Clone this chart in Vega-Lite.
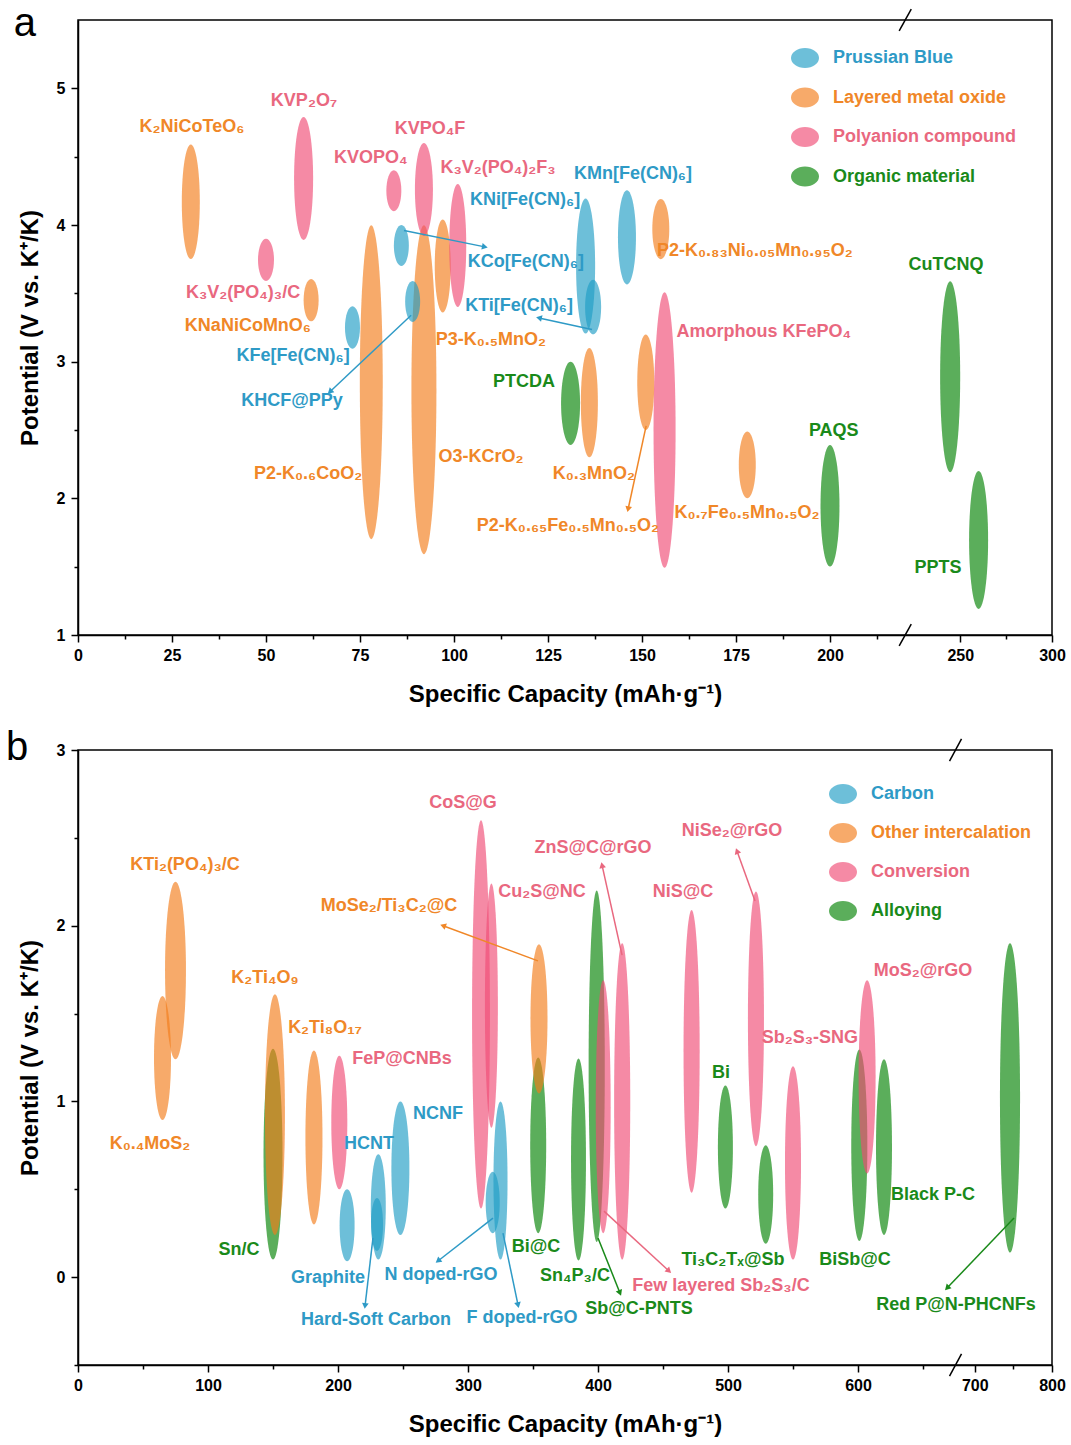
{
  "$schema": "https://vega.github.io/schema/vega-lite/v6.json",
  "padding": {"left": 5, "top": 3, "right": 5, "bottom": 5},
  "spacing": 20,
  "config": {
    "view": {"stroke": "#000", "strokeWidth": 1.5},
    "axis": {"domainColor": "#000", "domainWidth": 1.5, "tickColor": "#000", "tickWidth": 1.5, "labelColor": "#000", "labelFont": "Liberation Sans", "labelFontSize": 16, "labelFontWeight": "bold", "titleFont": "Liberation Sans", "titleFontSize": 24, "titleFontWeight": "bold", "titleColor": "#000", "grid": false, "labelFlush": false, "labelOverlap": false},
    "text": {"font": "Liberation Sans"}
  },
  "resolve": {"scale": {"fill": "independent", "color": "independent", "shape": "independent", "size": "independent"}},
  "datasets": {
    "ell_a": [
      {"name": "K2NiCoTeO6", "cat": "Layered metal oxide", "cap": 30, "v": 4.17, "dv": 0.84},
      {"name": "KVP2O7", "cat": "Polyanion compound", "cap": 60, "v": 4.34, "dv": 0.90},
      {"name": "K3V2PO43C", "cat": "Polyanion compound", "cap": 50, "v": 3.745, "dv": 0.31},
      {"name": "KNaNiCoMnO6", "cat": "Layered metal oxide", "cap": 62, "v": 3.45, "dv": 0.31},
      {"name": "KFeFeCN6", "cat": "Prussian Blue", "cap": 73, "v": 3.25, "dv": 0.31},
      {"name": "P2K06CoO2", "cat": "Layered metal oxide", "cap": 78, "v": 2.85, "dv": 2.30},
      {"name": "O3KCrO2", "cat": "Layered metal oxide", "cap": 92, "v": 2.795, "dv": 2.41},
      {"name": "KHCFPPy", "cat": "Prussian Blue", "cap": 89, "v": 3.44, "dv": 0.30},
      {"name": "KCoFeCN6", "cat": "Prussian Blue", "cap": 86, "v": 3.85, "dv": 0.30},
      {"name": "KVOPO4", "cat": "Polyanion compound", "cap": 84, "v": 4.25, "dv": 0.30},
      {"name": "KVPO4F", "cat": "Polyanion compound", "cap": 92, "v": 4.26, "dv": 0.68},
      {"name": "P3K05MnO2", "cat": "Layered metal oxide", "cap": 97, "v": 3.70, "dv": 0.68},
      {"name": "K3V2PO42F3", "cat": "Polyanion compound", "cap": 101, "v": 3.85, "dv": 0.90},
      {"name": "KNiFeCN6", "cat": "Prussian Blue", "cap": 135, "v": 3.70, "dv": 0.99},
      {"name": "KTiFeCN6", "cat": "Prussian Blue", "cap": 137, "v": 3.40, "dv": 0.40},
      {"name": "KMnFeCN6", "cat": "Prussian Blue", "cap": 146, "v": 3.91, "dv": 0.69},
      {"name": "P2K083", "cat": "Layered metal oxide", "cap": 155, "v": 3.97, "dv": 0.44},
      {"name": "PTCDA", "cat": "Organic material", "cap": 131, "v": 2.695, "dv": 0.61},
      {"name": "K03MnO2", "cat": "Layered metal oxide", "cap": 136, "v": 2.70, "dv": 0.80},
      {"name": "P2K065", "cat": "Layered metal oxide", "cap": 151, "v": 2.85, "dv": 0.70},
      {"name": "AmKFePO4", "cat": "Polyanion compound", "cap": 156, "v": 2.50, "dv": 2.02},
      {"name": "K07", "cat": "Layered metal oxide", "cap": 178, "v": 2.245, "dv": 0.49},
      {"name": "PAQS", "cat": "Organic material", "cap": 200, "v": 1.945, "dv": 0.89},
      {"name": "CuTCNQ", "cat": "Organic material", "cap": 244.5, "v": 2.89, "dv": 1.40},
      {"name": "PPTS", "cat": "Organic material", "cap": 260, "v": 1.695, "dv": 1.01}
    ],
    "lab_a": [
      {"t": "K₂NiCoTeO₆", "cat": "Layered metal oxide", "cap": 30.3, "v": 4.72},
      {"t": "KVP₂O₇", "cat": "Polyanion compound", "cap": 60.1, "v": 4.91},
      {"t": "KVOPO₄", "cat": "Polyanion compound", "cap": 77.9, "v": 4.49},
      {"t": "KVPO₄F", "cat": "Polyanion compound", "cap": 93.6, "v": 4.70},
      {"t": "K₃V₂(PO₄)₂F₃", "cat": "Polyanion compound", "cap": 111.7, "v": 4.42},
      {"t": "KNi[Fe(CN)₆]", "cat": "Prussian Blue", "cap": 118.9, "v": 4.18},
      {"t": "KMn[Fe(CN)₆]", "cat": "Prussian Blue", "cap": 147.6, "v": 4.37},
      {"t": "KCo[Fe(CN)₆]", "cat": "Prussian Blue", "cap": 119.1, "v": 3.73},
      {"t": "P2-K₀.₈₃Ni₀.₀₅Mn₀.₉₅O₂", "cat": "Layered metal oxide", "cap": 180, "v": 3.81},
      {"t": "CuTCNQ", "cat": "Organic material", "cap": 242.3, "v": 3.71},
      {"t": "K₃V₂(PO₄)₃/C", "cat": "Polyanion compound", "cap": 43.9, "v": 3.50},
      {"t": "KNaNiCoMnO₆", "cat": "Layered metal oxide", "cap": 45.2, "v": 3.26},
      {"t": "KTi[Fe(CN)₆]", "cat": "Prussian Blue", "cap": 117.3, "v": 3.41},
      {"t": "P3-K₀.₅MnO₂", "cat": "Layered metal oxide", "cap": 109.8, "v": 3.16},
      {"t": "KFe[Fe(CN)₆]", "cat": "Prussian Blue", "cap": 57.2, "v": 3.04},
      {"t": "Amorphous KFePO₄", "cat": "Polyanion compound", "cap": 182.4, "v": 3.22},
      {"t": "KHCF@PPy", "cat": "Prussian Blue", "cap": 56.9, "v": 2.71},
      {"t": "PTCDA", "cat": "Organic material", "cap": 118.6, "v": 2.85},
      {"t": "PAQS", "cat": "Organic material", "cap": 201, "v": 2.49},
      {"t": "O3-KCrO₂", "cat": "Layered metal oxide", "cap": 107.2, "v": 2.30},
      {"t": "P2-K₀.₆CoO₂", "cat": "Layered metal oxide", "cap": 61.2, "v": 2.18},
      {"t": "K₀.₃MnO₂", "cat": "Layered metal oxide", "cap": 137.2, "v": 2.18},
      {"t": "K₀.₇Fe₀.₅Mn₀.₅O₂", "cat": "Layered metal oxide", "cap": 177.9, "v": 1.89},
      {"t": "P2-K₀.₆₅Fe₀.₅Mn₀.₅O₂", "cat": "Layered metal oxide", "cap": 130.3, "v": 1.80},
      {"t": "PPTS", "cat": "Organic material", "cap": 237.9, "v": 1.49}
    ],
    "arr_a": [
      {"cat": "Prussian Blue", "cap": 108.2, "v": 3.84, "cap2": 86.7, "v2": 3.96, "ang": 101},
      {"cat": "Prussian Blue", "cap": 122.6, "v": 3.32, "cap2": 136.7, "v2": 3.235, "ang": 283},
      {"cat": "Prussian Blue", "cap": 67.0, "v": 2.78, "cap2": 88.6, "v2": 3.34, "ang": 227},
      {"cat": "Layered metal oxide", "cap": 146.3, "v": 1.92, "cap2": 151.1, "v2": 2.53, "ang": 192}
    ],
    "brk_a": [
      {"cap": 218.4, "v": 0.92, "cap2": 223.3, "v2": 1.08},
      {"cap": 218.4, "v": 5.42, "cap2": 223.3, "v2": 5.58}
    ],
    "let_a": [{"t": "a", "cap": -14.1, "v": 5.38}],
    "ell_b": [
      {"name": "K04MoS2", "cat": "Other intercalation", "cap": 65, "v": 1.247, "dv": 0.706},
      {"name": "KTi2PO43C", "cat": "Other intercalation", "cap": 75, "v": 1.745, "dv": 1.01},
      {"name": "SnC", "cat": "Alloying", "cap": 150, "v": 0.70, "dv": 1.20},
      {"name": "K2Ti4O9", "cat": "Other intercalation", "cap": 151.5, "v": 0.925, "dv": 1.37},
      {"name": "K2Ti8O17", "cat": "Other intercalation", "cap": 181.5, "v": 0.795, "dv": 0.99},
      {"name": "FePCNBs", "cat": "Conversion", "cap": 201, "v": 0.88, "dv": 0.76},
      {"name": "Graphite", "cat": "Carbon", "cap": 207, "v": 0.295, "dv": 0.41},
      {"name": "HCNT", "cat": "Carbon", "cap": 231, "v": 0.40, "dv": 0.60},
      {"name": "HardSoft", "cat": "Carbon", "cap": 230, "v": 0.30, "dv": 0.30},
      {"name": "NCNF", "cat": "Carbon", "cap": 248, "v": 0.62, "dv": 0.76},
      {"name": "CoSG", "cat": "Conversion", "cap": 310, "v": 1.495, "dv": 2.21},
      {"name": "Cu2SNC", "cat": "Conversion", "cap": 318, "v": 1.545, "dv": 1.39},
      {"name": "FdopedrGO", "cat": "Carbon", "cap": 325, "v": 0.55, "dv": 0.90},
      {"name": "NdopedrGO", "cat": "Carbon", "cap": 319, "v": 0.425, "dv": 0.35},
      {"name": "BiC", "cat": "Alloying", "cap": 354, "v": 0.75, "dv": 1.0},
      {"name": "MoSe2", "cat": "Other intercalation", "cap": 354.6, "v": 1.47, "dv": 0.85},
      {"name": "Sn4P3C", "cat": "Alloying", "cap": 385, "v": 0.67, "dv": 1.15},
      {"name": "SbCPNTS", "cat": "Alloying", "cap": 399, "v": 1.20, "dv": 2.0},
      {"name": "FewSb2S3", "cat": "Conversion", "cap": 404, "v": 0.97, "dv": 1.44},
      {"name": "ZnS", "cat": "Conversion", "cap": 418.6, "v": 1.0, "dv": 1.8},
      {"name": "NiSC", "cat": "Conversion", "cap": 472, "v": 1.285, "dv": 1.61},
      {"name": "Bi", "cat": "Alloying", "cap": 498, "v": 0.74, "dv": 0.70},
      {"name": "NiSe2", "cat": "Conversion", "cap": 521.5, "v": 1.47, "dv": 1.45},
      {"name": "Ti3C2Tx", "cat": "Alloying", "cap": 529, "v": 0.47, "dv": 0.56},
      {"name": "Sb2S3SNG", "cat": "Conversion", "cap": 550, "v": 0.65, "dv": 1.10},
      {"name": "BiSbC", "cat": "Alloying", "cap": 601, "v": 0.75, "dv": 1.09},
      {"name": "MoS2rGO", "cat": "Conversion", "cap": 607, "v": 1.14, "dv": 1.10},
      {"name": "BlackPC", "cat": "Alloying", "cap": 620, "v": 0.74, "dv": 1.0},
      {"name": "RedP", "cat": "Alloying", "cap": 745.6, "v": 1.02, "dv": 1.76}
    ],
    "lab_b": [
      {"t": "CoS@G", "cat": "Conversion", "cap": 296.2, "v": 2.70},
      {"t": "KTi₂(PO₄)₃/C", "cat": "Other intercalation", "cap": 82.3, "v": 2.345},
      {"t": "NiSe₂@rGO", "cat": "Conversion", "cap": 503.1, "v": 2.54},
      {"t": "ZnS@C@rGO", "cat": "Conversion", "cap": 396.2, "v": 2.44},
      {"t": "Cu₂S@NC", "cat": "Conversion", "cap": 356.9, "v": 2.19},
      {"t": "NiS@C", "cat": "Conversion", "cap": 465.4, "v": 2.19},
      {"t": "MoSe₂/Ti₃C₂@C", "cat": "Other intercalation", "cap": 239.2, "v": 2.11},
      {"t": "K₂Ti₄O₉", "cat": "Other intercalation", "cap": 143.8, "v": 1.70},
      {"t": "MoS₂@rGO", "cat": "Conversion", "cap": 650, "v": 1.74},
      {"t": "K₂Ti₈O₁₇", "cat": "Other intercalation", "cap": 190, "v": 1.42},
      {"t": "Sb₂S₃-SNG", "cat": "Conversion", "cap": 563, "v": 1.36},
      {"t": "FeP@CNBs", "cat": "Conversion", "cap": 249.2, "v": 1.24},
      {"t": "Bi", "cat": "Alloying", "cap": 494.6, "v": 1.16},
      {"t": "NCNF", "cat": "Carbon", "cap": 277, "v": 0.93},
      {"t": "K₀.₄MoS₂", "cat": "Other intercalation", "cap": 55.4, "v": 0.76},
      {"t": "HCNT", "cat": "Carbon", "cap": 223.8, "v": 0.76},
      {"t": "Black P-C", "cat": "Alloying", "cap": 657.7, "v": 0.47},
      {"t": "Sn/C", "cat": "Alloying", "cap": 123.8, "v": 0.155},
      {"t": "Bi@C", "cat": "Alloying", "cap": 352.3, "v": 0.17},
      {"t": "Ti₃C₂Tₓ@Sb", "cat": "Alloying", "cap": 503.8, "v": 0.10},
      {"t": "BiSb@C", "cat": "Alloying", "cap": 597.7, "v": 0.10},
      {"t": "Graphite", "cat": "Carbon", "cap": 192.3, "v": -0.005},
      {"t": "N doped-rGO", "cat": "Carbon", "cap": 279.2, "v": 0.01},
      {"t": "Sn₄P₃/C", "cat": "Alloying", "cap": 382.3, "v": 0.006},
      {"t": "Few layered Sb₂S₃/C", "cat": "Conversion", "cap": 494.6, "v": -0.05},
      {"t": "Sb@C-PNTS", "cat": "Alloying", "cap": 431.5, "v": -0.18},
      {"t": "Red P@N-PHCNFs", "cat": "Alloying", "cap": 675.6, "v": -0.159},
      {"t": "Hard-Soft Carbon", "cat": "Carbon", "cap": 229.2, "v": -0.245},
      {"t": "F doped-rGO", "cat": "Carbon", "cap": 341.5, "v": -0.235}
    ],
    "arr_b": [
      {"cat": "Other intercalation", "cap": 280.8, "v": 2.0, "cap2": 353.8, "v2": 1.80, "ang": 290},
      {"cat": "Conversion", "cap": 403.1, "v": 2.345, "cap2": 418.5, "v2": 1.833, "ang": 347},
      {"cat": "Conversion", "cap": 506.9, "v": 2.425, "cap2": 520.8, "v2": 2.141, "ang": 340},
      {"cat": "Carbon", "cap": 220.8, "v": -0.164, "cap2": 226.9, "v2": 0.223, "ang": 187},
      {"cat": "Carbon", "cap": 276.9, "v": 0.092, "cap2": 319.2, "v2": 0.336, "ang": 232},
      {"cat": "Carbon", "cap": 338.5, "v": -0.159, "cap2": 326.9, "v2": 0.251, "ang": 168},
      {"cat": "Alloying", "cap": 416.9, "v": -0.09, "cap2": 400, "v2": 0.223, "ang": 158},
      {"cat": "Conversion", "cap": 454.6, "v": 0.035, "cap2": 404.6, "v2": 0.376, "ang": 133},
      {"cat": "Alloying", "cap": 668.5, "v": -0.062, "cap2": 750.8, "v2": 0.336, "ang": 224}
    ],
    "brk_b": [
      {"cap": 670.4, "v": -0.563, "cap2": 682.8, "v2": -0.437},
      {"cap": 670.4, "v": 2.937, "cap2": 682.8, "v2": 3.063}
    ],
    "let_b": [{"t": "b", "cap": -46.9, "v": 2.943}]
  },
  "vconcat": [
    {
      "width": 974,
      "height": 615,
      "encoding": {
        "x": {"field": "cap", "type": "quantitative",
          "scale": {"domain": [0, 220, 300], "range": [0, 827.2, 974], "nice": false, "zero": false},
          "axis": {"title": "Specific Capacity (mAh·g⁻¹)", "values": [0, 12.5, 25, 37.5, 50, 62.5, 75, 87.5, 100, 112.5, 125, 137.5, 150, 162.5, 175, 187.5, 200, 212.5, 250, 275, 300],
            "labelExpr": "(datum.value % 25 !== 0 || datum.value == 275) ? '' : '' + datum.value",
            "tickSize": {"condition": {"test": "datum.value % 25 !== 0 || datum.value == 275", "value": 4}, "value": 7},
            "labelPadding": 5, "titlePadding": 19}},
        "y": {"field": "v", "type": "quantitative",
          "scale": {"domain": [1, 5.5], "nice": false, "zero": false},
          "axis": {"title": "Potential (V vs. K⁺/K)", "values": [1, 1.5, 2, 2.5, 3, 3.5, 4, 4.5, 5],
            "labelExpr": "datum.value % 1 !== 0 ? '' : '' + datum.value",
            "tickSize": {"condition": {"test": "datum.value % 1 !== 0", "value": 4}, "value": 7},
            "labelPadding": 6, "titlePadding": 14}}
      },
      "layer": [
        {
          "data": {"name": "ell_a"},
          "mark": {"type": "point", "filled": true, "opacity": 0.65, "strokeWidth": 0},
          "encoding": {
            "fill": {"field": "cat", "type": "nominal",
              "scale": {"domain": ["Prussian Blue", "Layered metal oxide", "Polyanion compound", "Organic material"], "range": ["#1F9DC5", "#F37D1A", "#F04B75", "#038303"]},
              "legend": {"orient": "none", "legendX": 713, "legendY": 24, "title": null,
                "symbolType": "M0,-0.714C0.552,-0.714 1,-0.394 1,0C1,0.394 0.552,0.714 0,0.714C-0.552,0.714 -1,0.394 -1,0C-1,-0.394 -0.552,-0.714 0,-0.714Z",
                "symbolSize": 784, "symbolOpacity": 0.65, "symbolStrokeWidth": 0,
                "labelFont": "Liberation Sans", "labelFontSize": 18, "labelFontWeight": "bold", "labelOffset": 14, "rowPadding": 15.5, "labelLimit": 400,
                "encode": {"labels": {"update": {"fill": {"signal": "datum.label == 'Prussian Blue' ? '#2E9AC6' : datum.label == 'Layered metal oxide' ? '#F08728' : datum.label == 'Polyanion compound' ? '#E9687F' : '#1A8A1A'"}}}}}},
            "shape": {"field": "name", "type": "nominal", "legend": null,
              "scale": {"domain": ["K2NiCoTeO6", "KVP2O7", "K3V2PO43C", "KNaNiCoMnO6", "KFeFeCN6", "P2K06CoO2", "O3KCrO2", "KHCFPPy", "KCoFeCN6", "KVOPO4", "KVPO4F", "P3K05MnO2", "K3V2PO42F3", "KNiFeCN6", "KTiFeCN6", "KMnFeCN6", "P2K083", "PTCDA", "K03MnO2", "P2K065", "AmKFePO4", "K07", "PAQS", "CuTCNQ", "PPTS"],
                "range": [
                  "M0,-1C0.087,-1 0.157,-0.552 0.157,0C0.157,0.552 0.087,1 0,1C-0.087,1 -0.157,0.552 -0.157,0C-0.157,-0.552 -0.087,-1 0,-1Z",
                  "M0,-1C0.086,-1 0.155,-0.552 0.155,0C0.155,0.552 0.086,1 0,1C-0.086,1 -0.155,0.552 -0.155,0C-0.155,-0.552 -0.086,-1 0,-1Z",
                  "M0,-1C0.209,-1 0.378,-0.552 0.378,0C0.378,0.552 0.209,1 0,1C-0.209,1 -0.378,0.552 -0.378,0C-0.378,-0.552 -0.209,-1 0,-1Z",
                  "M0,-1C0.196,-1 0.355,-0.552 0.355,0C0.355,0.552 0.196,1 0,1C-0.196,1 -0.355,0.552 -0.355,0C-0.355,-0.552 -0.196,-1 0,-1Z",
                  "M0,-1C0.196,-1 0.355,-0.552 0.355,0C0.355,0.552 0.196,1 0,1C-0.196,1 -0.355,0.552 -0.355,0C-0.355,-0.552 -0.196,-1 0,-1Z",
                  "M0,-1C0.040,-1 0.073,-0.552 0.073,0C0.073,0.552 0.040,1 0,1C-0.040,1 -0.073,0.552 -0.073,0C-0.073,-0.552 -0.040,-1 0,-1Z",
                  "M0,-1C0.042,-1 0.076,-0.552 0.076,0C0.076,0.552 0.042,1 0,1C-0.042,1 -0.076,0.552 -0.076,0C-0.076,-0.552 -0.042,-1 0,-1Z",
                  "M0,-1C0.202,-1 0.366,-0.552 0.366,0C0.366,0.552 0.202,1 0,1C-0.202,1 -0.366,0.552 -0.366,0C-0.366,-0.552 -0.202,-1 0,-1Z",
                  "M0,-1C0.202,-1 0.366,-0.552 0.366,0C0.366,0.552 0.202,1 0,1C-0.202,1 -0.366,0.552 -0.366,0C-0.366,-0.552 -0.202,-1 0,-1Z",
                  "M0,-1C0.202,-1 0.366,-0.552 0.366,0C0.366,0.552 0.202,1 0,1C-0.202,1 -0.366,0.552 -0.366,0C-0.366,-0.552 -0.202,-1 0,-1Z",
                  "M0,-1C0.107,-1 0.194,-0.552 0.194,0C0.194,0.552 0.107,1 0,1C-0.107,1 -0.194,0.552 -0.194,0C-0.194,-0.552 -0.107,-1 0,-1Z",
                  "M0,-1C0.095,-1 0.172,-0.552 0.172,0C0.172,0.552 0.095,1 0,1C-0.095,1 -0.172,0.552 -0.172,0C-0.172,-0.552 -0.095,-1 0,-1Z",
                  "M0,-1C0.076,-1 0.138,-0.552 0.138,0C0.138,0.552 0.076,1 0,1C-0.076,1 -0.138,0.552 -0.138,0C-0.138,-0.552 -0.076,-1 0,-1Z",
                  "M0,-1C0.078,-1 0.141,-0.552 0.141,0C0.141,0.552 0.078,1 0,1C-0.078,1 -0.141,0.552 -0.141,0C-0.141,-0.552 -0.078,-1 0,-1Z",
                  "M0,-1C0.162,-1 0.293,-0.552 0.293,0C0.293,0.552 0.162,1 0,1C-0.162,1 -0.293,0.552 -0.293,0C-0.293,-0.552 -0.162,-1 0,-1Z",
                  "M0,-1C0.105,-1 0.191,-0.552 0.191,0C0.191,0.552 0.105,1 0,1C-0.105,1 -0.191,0.552 -0.191,0C-0.191,-0.552 -0.105,-1 0,-1Z",
                  "M0,-1C0.156,-1 0.283,-0.552 0.283,0C0.283,0.552 0.156,1 0,1C-0.156,1 -0.283,0.552 -0.283,0C-0.283,-0.552 -0.156,-1 0,-1Z",
                  "M0,-1C0.126,-1 0.228,-0.552 0.228,0C0.228,0.552 0.126,1 0,1C-0.126,1 -0.228,0.552 -0.228,0C-0.228,-0.552 -0.126,-1 0,-1Z",
                  "M0,-1C0.086,-1 0.156,-0.552 0.156,0C0.156,0.552 0.086,1 0,1C-0.086,1 -0.156,0.552 -0.156,0C-0.156,-0.552 -0.086,-1 0,-1Z",
                  "M0,-1C0.098,-1 0.178,-0.552 0.178,0C0.178,0.552 0.098,1 0,1C-0.098,1 -0.178,0.552 -0.178,0C-0.178,-0.552 -0.098,-1 0,-1Z",
                  "M0,-1C0.044,-1 0.080,-0.552 0.080,0C0.080,0.552 0.044,1 0,1C-0.044,1 -0.080,0.552 -0.080,0C-0.080,-0.552 -0.044,-1 0,-1Z",
                  "M0,-1C0.140,-1 0.254,-0.552 0.254,0C0.254,0.552 0.140,1 0,1C-0.140,1 -0.254,0.552 -0.254,0C-0.254,-0.552 -0.140,-1 0,-1Z",
                  "M0,-1C0.086,-1 0.156,-0.552 0.156,0C0.156,0.552 0.086,1 0,1C-0.086,1 -0.156,0.552 -0.156,0C-0.156,-0.552 -0.086,-1 0,-1Z",
                  "M0,-1C0.058,-1 0.105,-0.552 0.105,0C0.105,0.552 0.058,1 0,1C-0.058,1 -0.105,0.552 -0.105,0C-0.105,-0.552 -0.058,-1 0,-1Z",
                  "M0,-1C0.076,-1 0.138,-0.552 0.138,0C0.138,0.552 0.076,1 0,1C-0.076,1 -0.138,0.552 -0.138,0C-0.138,-0.552 -0.076,-1 0,-1Z"
                ]}},
            "size": {"field": "dv", "type": "quantitative", "legend": null,
              "scale": {"type": "pow", "exponent": 2, "domain": [0, 3], "range": [0, 167688], "zero": true}}
          }
        },
        {
          "data": {"name": "arr_a"},
          "mark": {"type": "rule", "strokeWidth": 1.5},
          "encoding": {
            "x2": {"field": "cap2"}, "y2": {"field": "v2"},
            "color": {"field": "cat", "type": "nominal", "legend": null,
              "scale": {"domain": ["Prussian Blue", "Layered metal oxide", "Polyanion compound", "Organic material"], "range": ["#2E9AC6", "#F08728", "#E9687F", "#1A8A1A"]}}
          }
        },
        {
          "data": {"name": "arr_a"},
          "mark": {"type": "point", "shape": "triangle-up", "filled": true, "size": 45, "opacity": 1},
          "encoding": {
            "angle": {"field": "ang", "type": "quantitative", "scale": null},
            "color": {"field": "cat", "type": "nominal", "legend": null,
              "scale": {"domain": ["Prussian Blue", "Layered metal oxide", "Polyanion compound", "Organic material"], "range": ["#2E9AC6", "#F08728", "#E9687F", "#1A8A1A"]}}
          }
        },
        {
          "data": {"name": "lab_a"},
          "mark": {"type": "text", "font": "Liberation Sans", "fontWeight": "bold", "fontSize": 18, "align": "center", "baseline": "middle"},
          "encoding": {
            "text": {"field": "t"},
            "color": {"field": "cat", "type": "nominal", "legend": null,
              "scale": {"domain": ["Prussian Blue", "Layered metal oxide", "Polyanion compound", "Organic material"], "range": ["#2E9AC6", "#F08728", "#E9687F", "#1A8A1A"]}}
          }
        },
        {
          "data": {"name": "brk_a"},
          "mark": {"type": "rule", "strokeWidth": 1.5, "color": "#000"},
          "encoding": {"x2": {"field": "cap2"}, "y2": {"field": "v2"}}
        },
        {
          "data": {"name": "let_a"},
          "mark": {"type": "text", "font": "Liberation Sans", "fontSize": 40, "align": "center", "baseline": "alphabetic", "color": "#000"},
          "encoding": {"text": {"field": "t"}}
        }
      ]
    },
    {
      "width": 974,
      "height": 615,
      "encoding": {
        "x": {"field": "cap", "type": "quantitative",
          "scale": {"domain": [0, 675, 800], "range": [0, 877.5, 974], "nice": false, "zero": false},
          "axis": {"title": "Specific Capacity (mAh·g⁻¹)", "values": [0, 50, 100, 150, 200, 250, 300, 350, 400, 450, 500, 550, 600, 650, 700, 750, 800],
            "labelExpr": "datum.value % 100 !== 0 ? '' : '' + datum.value",
            "tickSize": {"condition": {"test": "datum.value % 100 !== 0", "value": 4}, "value": 7},
            "labelPadding": 5, "titlePadding": 19}},
        "y": {"field": "v", "type": "quantitative",
          "scale": {"domain": [-0.5, 3], "nice": false, "zero": false},
          "axis": {"title": "Potential (V vs. K⁺/K)", "values": [-0.5, 0, 0.5, 1, 1.5, 2, 2.5, 3],
            "labelExpr": "datum.value % 1 !== 0 ? '' : '' + datum.value",
            "tickSize": {"condition": {"test": "datum.value % 1 !== 0", "value": 4}, "value": 7},
            "labelPadding": 6, "titlePadding": 14}}
      },
      "layer": [
        {
          "data": {"name": "ell_b"},
          "mark": {"type": "point", "filled": true, "opacity": 0.65, "strokeWidth": 0},
          "encoding": {
            "fill": {"field": "cat", "type": "nominal",
              "scale": {"domain": ["Carbon", "Other intercalation", "Conversion", "Alloying"], "range": ["#1F9DC5", "#F37D1A", "#F04B75", "#038303"]},
              "legend": {"orient": "none", "legendX": 751, "legendY": 30, "title": null,
                "symbolType": "M0,-0.714C0.552,-0.714 1,-0.394 1,0C1,0.394 0.552,0.714 0,0.714C-0.552,0.714 -1,0.394 -1,0C-1,-0.394 -0.552,-0.714 0,-0.714Z",
                "symbolSize": 784, "symbolOpacity": 0.65, "symbolStrokeWidth": 0,
                "labelFont": "Liberation Sans", "labelFontSize": 18, "labelFontWeight": "bold", "labelOffset": 14, "rowPadding": 15, "labelLimit": 400,
                "encode": {"labels": {"update": {"fill": {"signal": "datum.label == 'Carbon' ? '#2E9AC6' : datum.label == 'Other intercalation' ? '#F08728' : datum.label == 'Conversion' ? '#E9687F' : '#1A8A1A'"}}}}}},
            "shape": {"field": "name", "type": "nominal", "legend": null,
              "scale": {"domain": ["K04MoS2", "KTi2PO43C", "SnC", "K2Ti4O9", "K2Ti8O17", "FePCNBs", "Graphite", "HCNT", "HardSoft", "NCNF", "CoSG", "Cu2SNC", "FdopedrGO", "NdopedrGO", "BiC", "MoSe2", "Sn4P3C", "SbCPNTS", "FewSb2S3", "ZnS", "NiSC", "Bi", "NiSe2", "Ti3C2Tx", "Sb2S3SNG", "BiSbC", "MoS2rGO", "BlackPC", "RedP"],
                "range": [
                  "M0,-1C0.076,-1 0.137,-0.552 0.137,0C0.137,0.552 0.076,1 0,1C-0.076,1 -0.137,0.552 -0.137,0C-0.137,-0.552 -0.076,-1 0,-1Z",
                  "M0,-1C0.065,-1 0.118,-0.552 0.118,0C0.118,0.552 0.065,1 0,1C-0.065,1 -0.118,0.552 -0.118,0C-0.118,-0.552 -0.065,-1 0,-1Z",
                  "M0,-1C0.050,-1 0.090,-0.552 0.090,0C0.090,0.552 0.050,1 0,1C-0.050,1 -0.090,0.552 -0.090,0C-0.090,-0.552 -0.050,-1 0,-1Z",
                  "M0,-1C0.046,-1 0.083,-0.552 0.083,0C0.083,0.552 0.046,1 0,1C-0.046,1 -0.083,0.552 -0.083,0C-0.083,-0.552 -0.046,-1 0,-1Z",
                  "M0,-1C0.054,-1 0.098,-0.552 0.098,0C0.098,0.552 0.054,1 0,1C-0.054,1 -0.098,0.552 -0.098,0C-0.098,-0.552 -0.054,-1 0,-1Z",
                  "M0,-1C0.066,-1 0.120,-0.552 0.120,0C0.120,0.552 0.066,1 0,1C-0.066,1 -0.120,0.552 -0.120,0C-0.120,-0.552 -0.066,-1 0,-1Z",
                  "M0,-1C0.115,-1 0.208,-0.552 0.208,0C0.208,0.552 0.115,1 0,1C-0.115,1 -0.208,0.552 -0.208,0C-0.208,-0.552 -0.115,-1 0,-1Z",
                  "M0,-1C0.078,-1 0.142,-0.552 0.142,0C0.142,0.552 0.078,1 0,1C-0.078,1 -0.142,0.552 -0.142,0C-0.142,-0.552 -0.078,-1 0,-1Z",
                  "M0,-1C0.126,-1 0.228,-0.552 0.228,0C0.228,0.552 0.126,1 0,1C-0.126,1 -0.228,0.552 -0.228,0C-0.228,-0.552 -0.126,-1 0,-1Z",
                  "M0,-1C0.075,-1 0.135,-0.552 0.135,0C0.135,0.552 0.075,1 0,1C-0.075,1 -0.135,0.552 -0.135,0C-0.135,-0.552 -0.075,-1 0,-1Z",
                  "M0,-1C0.025,-1 0.046,-0.552 0.046,0C0.046,0.552 0.025,1 0,1C-0.025,1 -0.046,0.552 -0.046,0C-0.046,-0.552 -0.025,-1 0,-1Z",
                  "M0,-1C0.029,-1 0.053,-0.552 0.053,0C0.053,0.552 0.029,1 0,1C-0.029,1 -0.053,0.552 -0.053,0C-0.053,-0.552 -0.029,-1 0,-1Z",
                  "M0,-1C0.049,-1 0.089,-0.552 0.089,0C0.089,0.552 0.049,1 0,1C-0.049,1 -0.089,0.552 -0.089,0C-0.089,-0.552 -0.049,-1 0,-1Z",
                  "M0,-1C0.126,-1 0.228,-0.552 0.228,0C0.228,0.552 0.126,1 0,1C-0.126,1 -0.228,0.552 -0.228,0C-0.228,-0.552 -0.126,-1 0,-1Z",
                  "M0,-1C0.050,-1 0.091,-0.552 0.091,0C0.091,0.552 0.050,1 0,1C-0.050,1 -0.091,0.552 -0.091,0C-0.091,-0.552 -0.050,-1 0,-1Z",
                  "M0,-1C0.063,-1 0.114,-0.552 0.114,0C0.114,0.552 0.063,1 0,1C-0.063,1 -0.114,0.552 -0.114,0C-0.114,-0.552 -0.063,-1 0,-1Z",
                  "M0,-1C0.041,-1 0.074,-0.552 0.074,0C0.074,0.552 0.041,1 0,1C-0.041,1 -0.074,0.552 -0.074,0C-0.074,-0.552 -0.041,-1 0,-1Z",
                  "M0,-1C0.025,-1 0.046,-0.552 0.046,0C0.046,0.552 0.025,1 0,1C-0.025,1 -0.046,0.552 -0.046,0C-0.046,-0.552 -0.025,-1 0,-1Z",
                  "M0,-1C0.033,-1 0.059,-0.552 0.059,0C0.059,0.552 0.033,1 0,1C-0.033,1 -0.059,0.552 -0.059,0C-0.059,-0.552 -0.033,-1 0,-1Z",
                  "M0,-1C0.028,-1 0.051,-0.552 0.051,0C0.051,0.552 0.028,1 0,1C-0.028,1 -0.051,0.552 -0.051,0C-0.051,-0.552 -0.028,-1 0,-1Z",
                  "M0,-1C0.031,-1 0.057,-0.552 0.057,0C0.057,0.552 0.031,1 0,1C-0.031,1 -0.057,0.552 -0.057,0C-0.057,-0.552 -0.031,-1 0,-1Z",
                  "M0,-1C0.067,-1 0.122,-0.552 0.122,0C0.122,0.552 0.067,1 0,1C-0.067,1 -0.122,0.552 -0.122,0C-0.122,-0.552 -0.067,-1 0,-1Z",
                  "M0,-1C0.035,-1 0.063,-0.552 0.063,0C0.063,0.552 0.035,1 0,1C-0.035,1 -0.063,0.552 -0.063,0C-0.063,-0.552 -0.035,-1 0,-1Z",
                  "M0,-1C0.084,-1 0.152,-0.552 0.152,0C0.152,0.552 0.084,1 0,1C-0.084,1 -0.152,0.552 -0.152,0C-0.152,-0.552 -0.084,-1 0,-1Z",
                  "M0,-1C0.046,-1 0.083,-0.552 0.083,0C0.083,0.552 0.046,1 0,1C-0.046,1 -0.083,0.552 -0.083,0C-0.083,-0.552 -0.046,-1 0,-1Z",
                  "M0,-1C0.046,-1 0.084,-0.552 0.084,0C0.084,0.552 0.046,1 0,1C-0.046,1 -0.084,0.552 -0.084,0C-0.084,-0.552 -0.046,-1 0,-1Z",
                  "M0,-1C0.049,-1 0.088,-0.552 0.088,0C0.088,0.552 0.049,1 0,1C-0.049,1 -0.088,0.552 -0.088,0C-0.088,-0.552 -0.049,-1 0,-1Z",
                  "M0,-1C0.050,-1 0.091,-0.552 0.091,0C0.091,0.552 0.050,1 0,1C-0.050,1 -0.091,0.552 -0.091,0C-0.091,-0.552 -0.050,-1 0,-1Z",
                  "M0,-1C0.036,-1 0.065,-0.552 0.065,0C0.065,0.552 0.036,1 0,1C-0.036,1 -0.065,0.552 -0.065,0C-0.065,-0.552 -0.036,-1 0,-1Z"
                ]}},
            "size": {"field": "dv", "type": "quantitative", "legend": null,
              "scale": {"type": "pow", "exponent": 2, "domain": [0, 3], "range": [0, 277830], "zero": true}}
          }
        },
        {
          "data": {"name": "arr_b"},
          "mark": {"type": "rule", "strokeWidth": 1.5},
          "encoding": {
            "x2": {"field": "cap2"}, "y2": {"field": "v2"},
            "color": {"field": "cat", "type": "nominal", "legend": null,
              "scale": {"domain": ["Carbon", "Other intercalation", "Conversion", "Alloying"], "range": ["#2E9AC6", "#F08728", "#E9687F", "#1A8A1A"]}}
          }
        },
        {
          "data": {"name": "arr_b"},
          "mark": {"type": "point", "shape": "triangle-up", "filled": true, "size": 45, "opacity": 1},
          "encoding": {
            "angle": {"field": "ang", "type": "quantitative", "scale": null},
            "color": {"field": "cat", "type": "nominal", "legend": null,
              "scale": {"domain": ["Carbon", "Other intercalation", "Conversion", "Alloying"], "range": ["#2E9AC6", "#F08728", "#E9687F", "#1A8A1A"]}}
          }
        },
        {
          "data": {"name": "lab_b"},
          "mark": {"type": "text", "font": "Liberation Sans", "fontWeight": "bold", "fontSize": 18, "align": "center", "baseline": "middle"},
          "encoding": {
            "text": {"field": "t"},
            "color": {"field": "cat", "type": "nominal", "legend": null,
              "scale": {"domain": ["Carbon", "Other intercalation", "Conversion", "Alloying"], "range": ["#2E9AC6", "#F08728", "#E9687F", "#1A8A1A"]}}
          }
        },
        {
          "data": {"name": "brk_b"},
          "mark": {"type": "rule", "strokeWidth": 1.5, "color": "#000"},
          "encoding": {"x2": {"field": "cap2"}, "y2": {"field": "v2"}}
        },
        {
          "data": {"name": "let_b"},
          "mark": {"type": "text", "font": "Liberation Sans", "fontSize": 40, "align": "center", "baseline": "alphabetic", "color": "#000"},
          "encoding": {"text": {"field": "t"}}
        }
      ]
    }
  ]
}
